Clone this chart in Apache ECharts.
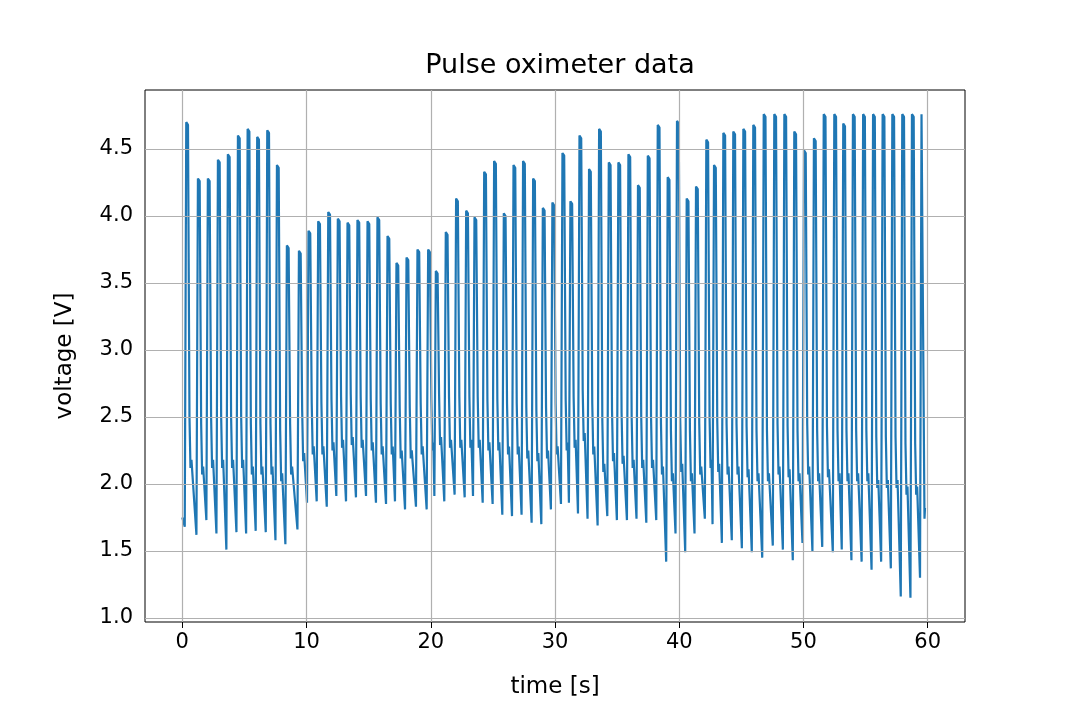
<!DOCTYPE html>
<html><head><meta charset="utf-8">
<script src="https://cdn.jsdelivr.net/npm/echarts@6/dist/echarts.min.js"></script>
<style>html,body{margin:0;padding:0;background:#fff}#c{width:1073px;height:712px}</style>
</head><body><div id="c"></div>
<script>
// Beat-by-beat values
const peakTimes = [0.32,1.26,2.06,2.87,3.67,4.48,5.26,6.03,6.84,7.62,8.42,9.39,10.16,10.94,11.75,12.52,13.30,14.10,14.91,15.71,16.52,17.24,18.05,18.93,19.79,20.41,21.21,22.04,22.85,23.52,24.30,25.10,25.88,26.66,27.43,28.24,29.02,29.79,30.60,31.24,31.97,32.74,33.55,34.33,35.10,35.91,36.68,37.47,38.27,39.07,39.82,40.60,41.35,42.18,42.80,43.55,44.35,45.16,45.96,46.80,47.65,48.46,49.26,50.04,50.84,51.63,52.48,53.20,53.98,54.80,55.60,56.37,57.15,57.95,58.73,59.50];
const peakValues = [4.70,4.28,4.28,4.42,4.46,4.60,4.65,4.59,4.64,4.38,3.78,3.74,3.89,3.96,4.03,3.98,3.95,3.97,3.96,3.99,3.85,3.65,3.69,3.75,3.75,3.59,3.88,4.13,4.04,3.99,4.33,4.41,4.02,4.38,4.41,4.28,4.06,4.10,4.47,4.11,4.60,4.35,4.65,4.40,4.40,4.46,4.23,4.45,4.68,4.29,4.71,4.13,4.22,4.57,4.38,4.62,4.63,4.65,4.68,4.76,4.76,4.76,4.63,4.49,4.58,4.76,4.76,4.69,4.76,4.76,4.76,4.76,4.76,4.76,4.76,4.76];
const troughValues = [1.68,1.62,1.73,1.63,1.51,1.64,1.63,1.65,1.64,1.58,1.55,1.66,1.86,1.87,1.83,1.91,1.87,1.90,1.91,1.86,1.85,1.87,1.81,1.83,1.81,1.91,1.87,1.92,1.90,1.91,1.86,1.85,1.77,1.76,1.77,1.71,1.70,1.81,1.85,1.86,1.78,1.74,1.69,1.76,1.73,1.73,1.74,1.71,1.73,1.42,1.63,1.49,1.63,1.74,1.70,1.56,1.58,1.52,1.49,1.45,1.54,1.51,1.43,1.56,1.50,1.53,1.49,1.51,1.43,1.42,1.36,1.42,1.37,1.16,1.15,1.30];
const notchValues = [2.15,2.10,2.15,2.15,2.15,2.15,2.10,2.10,2.10,2.05,2.10,2.20,
  2.25,2.25,2.28,2.30,2.32,2.30,2.28,2.25,2.25,2.22,2.22,2.25,2.28,2.32,2.30,2.30,2.30,2.30,
  2.28,2.28,2.25,2.25,2.22,2.20,2.22,2.25,2.28,2.30,2.35,2.25,2.12,2.20,2.18,2.15,2.15,2.15,2.10,2.05,
  2.12,2.05,2.10,2.15,2.12,2.10,2.10,2.08,2.05,2.05,2.10,2.08,2.05,2.10,2.05,2.08,2.05,2.05,2.05,2.05,2.00,2.00,2.00,1.95,1.95,1.95];
const startPoint = [0.0, 1.75];
const endPoints = [[59.64, 4.75], [59.74, 1.74], [59.78, 1.82]];
const xTicks = [0, 10, 20, 30, 40, 50, 60];
const yTicks = [1.0, 1.5, 2.0, 2.5, 3.0, 3.5, 4.0, 4.5];

const signal = [startPoint];
for (let i = 0; i < peakTimes.length; i++) {
  const t = peakTimes[i];
  signal.push([t - 0.12, troughValues[i]]);
  signal.push([t, peakValues[i]]);
  if (i < peakTimes.length - 1) {
    const n = notchValues[i];
    signal.push([t + 0.14, peakValues[i] - 0.02]);
    signal.push([t + 0.26, n + 0.35]);
    signal.push([t + 0.34, n - 0.03]);
    signal.push([t + 0.42, n + 0.03]);
  }
}
endPoints.forEach(p => signal.push(p));

const font = 'DejaVu Sans';
const chart = echarts.init(document.getElementById('c'), null, {renderer: 'canvas'});
chart.setOption({
  animation: false,
  backgroundColor: '#ffffff',
  title: {
    text: 'Pulse oximeter data', left: 555, top: 47, textAlign: 'center',
    textStyle: {fontFamily: font, fontSize: 27, fontWeight: 'normal', color: '#000'}
  },
  grid: {left: 145, right: 108, top: 90, bottom: 90, show: true, borderColor: '#000', borderWidth: 1, backgroundColor: 'transparent'},
  xAxis: {
    type: 'value', min: -3, max: 63,
    name: 'time [s]', nameLocation: 'middle', nameGap: 54,
    nameTextStyle: {fontFamily: font, fontSize: 23, color: '#000'},
    axisLine: {show: false},
    axisTick: {show: true, customValues: xTicks, length: 6, lineStyle: {color: '#000', width: 1}},
    axisLabel: {customValues: xTicks, fontFamily: font, fontSize: 21, color: '#000', margin: 10},
    splitLine: {show: false}
  },
  yAxis: {
    type: 'value', min: 0.9695, max: 4.9405,
    name: 'voltage [V]', nameLocation: 'middle', nameGap: 68, nameRotate: 90,
    nameTextStyle: {fontFamily: font, fontSize: 23, color: '#000'},
    axisLine: {show: false},
    axisTick: {show: true, customValues: yTicks, length: 6, lineStyle: {color: '#000', width: 1}},
    axisLabel: {customValues: yTicks, fontFamily: font, fontSize: 21, color: '#000', margin: 12,
      formatter: v => Number(v).toFixed(1)},
    splitLine: {show: false}
  },
  series: [
    {
      type: 'line', data: [], z: 1, silent: true,
      markLine: {
        silent: true, symbol: 'none', animation: false,
        label: {show: false},
        lineStyle: {color: '#b0b0b0', width: 1.2, type: 'solid'},
        emphasis: {disabled: true},
        data: xTicks.map(v => ({xAxis: v})).concat(yTicks.map(v => ({yAxis: v})))
      }
    },
    {
      type: 'line', data: signal, z: 3, showSymbol: false, symbol: 'none',
      lineStyle: {color: '#1f77b4', width: 2.2}, itemStyle: {color: '#1f77b4'}
    }
  ]
});
</script></body></html>
